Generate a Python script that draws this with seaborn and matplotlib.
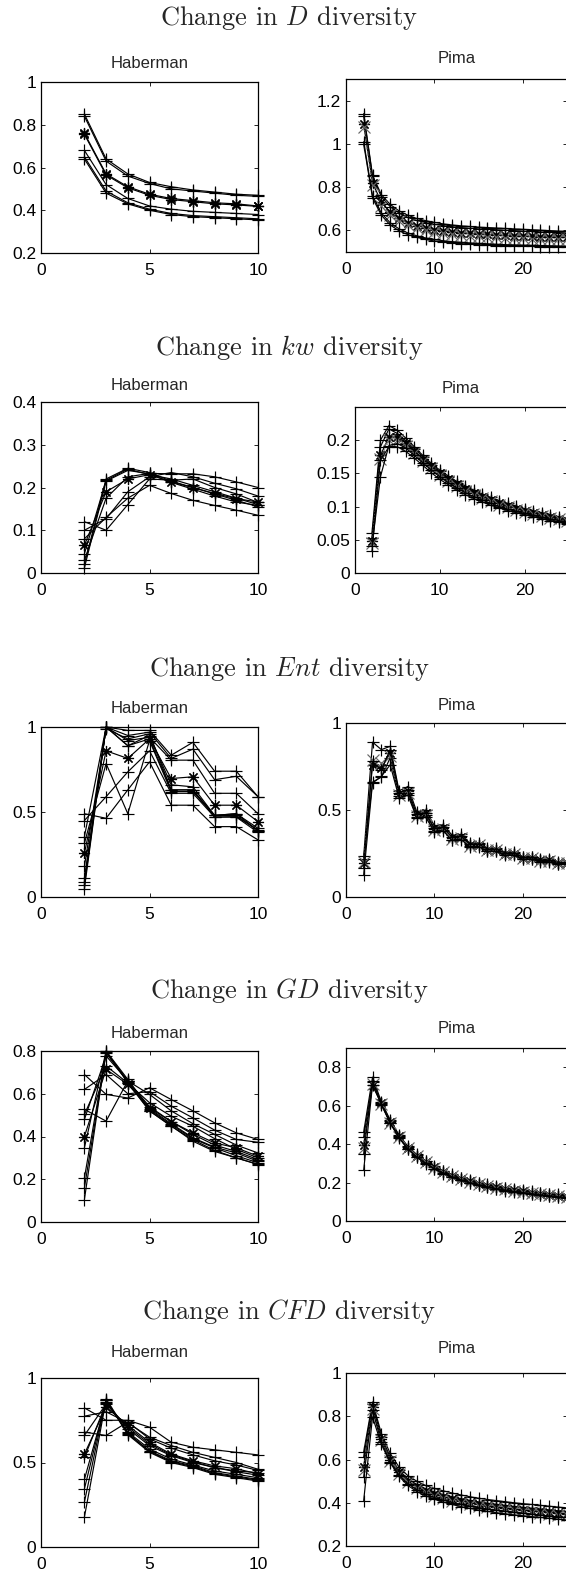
import matplotlib
matplotlib.use("Agg")
import matplotlib.pyplot as plt
import seaborn as sns
from matplotlib.ticker import FuncFormatter

# ---- data ----
hab_x = [2, 3, 4, 5, 6, 7, 8, 9, 10]
pima_x = list(range(2, 26))

# Change in D diversity
hab_D = [
    [0.85, 0.64, 0.57, 0.53, 0.51, 0.495, 0.485, 0.475, 0.47],
    [0.84, 0.63, 0.56, 0.525, 0.50, 0.49, 0.48, 0.47, 0.465],
    [0.76, 0.57, 0.51, 0.475, 0.455, 0.445, 0.435, 0.43, 0.42],
    [0.755, 0.565, 0.505, 0.47, 0.45, 0.44, 0.43, 0.425, 0.418],
    [0.68, 0.52, 0.455, 0.42, 0.405, 0.395, 0.39, 0.385, 0.38],
    [0.65, 0.49, 0.435, 0.405, 0.385, 0.375, 0.37, 0.365, 0.36],
    [0.64, 0.48, 0.43, 0.40, 0.38, 0.37, 0.365, 0.36, 0.355],
]
pima_D = [
    [1.14, 0.855, 0.765, 0.72, 0.69, 0.67, 0.655, 0.645, 0.637, 0.63, 0.625, 0.621,
     0.618, 0.615, 0.613, 0.611, 0.609, 0.607, 0.605, 0.603, 0.601, 0.599, 0.597, 0.595],
    [1.13, 0.85, 0.755, 0.71, 0.68, 0.66, 0.646, 0.636, 0.628, 0.622, 0.617, 0.613,
     0.61, 0.607, 0.605, 0.603, 0.601, 0.599, 0.597, 0.595, 0.593, 0.591, 0.59, 0.588],
    [1.09, 0.82, 0.73, 0.685, 0.655, 0.635, 0.622, 0.612, 0.604, 0.598, 0.593, 0.589,
     0.586, 0.583, 0.581, 0.579, 0.577, 0.575, 0.573, 0.572, 0.571, 0.57, 0.569, 0.568],
    [1.08, 0.81, 0.715, 0.67, 0.642, 0.623, 0.61, 0.60, 0.593, 0.587, 0.582, 0.578,
     0.575, 0.572, 0.57, 0.568, 0.566, 0.564, 0.563, 0.562, 0.561, 0.56, 0.559, 0.558],
    [1.01, 0.76, 0.68, 0.635, 0.607, 0.588, 0.575, 0.565, 0.558, 0.552, 0.548, 0.545,
     0.542, 0.54, 0.538, 0.536, 0.534, 0.533, 0.532, 0.531, 0.53, 0.529, 0.528, 0.527],
    [1.00, 0.75, 0.67, 0.625, 0.598, 0.58, 0.568, 0.558, 0.551, 0.546, 0.542, 0.539,
     0.536, 0.534, 0.532, 0.53, 0.529, 0.528, 0.527, 0.526, 0.525, 0.524, 0.523, 0.522],
]

# Change in kw diversity
hab_kw = [
    [0.02, 0.22, 0.245, 0.235, 0.215, 0.20, 0.185, 0.17, 0.155],
    [0.012, 0.215, 0.24, 0.232, 0.212, 0.196, 0.18, 0.166, 0.158],
    [0.065, 0.19, 0.22, 0.23, 0.213, 0.20, 0.186, 0.174, 0.166],
    [0.03, 0.175, 0.225, 0.233, 0.232, 0.232, 0.225, 0.213, 0.20],
    [0.10, 0.127, 0.19, 0.225, 0.235, 0.225, 0.21, 0.197, 0.18],
    [0.12, 0.10, 0.16, 0.22, 0.217, 0.22, 0.20, 0.185, 0.165],
    [0.08, 0.13, 0.175, 0.205, 0.186, 0.17, 0.158, 0.147, 0.135],
    [0.045, 0.217, 0.243, 0.23, 0.22, 0.205, 0.19, 0.175, 0.16],
]
pima_kw = [
    [0.06, 0.20, 0.222, 0.215, 0.203, 0.19, 0.177, 0.165, 0.155, 0.146, 0.138, 0.131,
     0.125, 0.119, 0.114, 0.109, 0.105, 0.101, 0.097, 0.094, 0.091, 0.088, 0.085, 0.082],
    [0.0525, 0.19, 0.217, 0.21, 0.199, 0.187, 0.175, 0.163, 0.153, 0.144, 0.136, 0.129,
     0.123, 0.117, 0.112, 0.107, 0.103, 0.099, 0.095, 0.092, 0.089, 0.086, 0.083, 0.08],
    [0.0475, 0.177, 0.205, 0.205, 0.196, 0.184, 0.172, 0.161, 0.151, 0.142, 0.134, 0.127,
     0.121, 0.115, 0.11, 0.105, 0.101, 0.097, 0.094, 0.091, 0.088, 0.085, 0.082, 0.079],
    [0.045, 0.172, 0.20, 0.20, 0.192, 0.181, 0.169, 0.158, 0.148, 0.139, 0.131, 0.124,
     0.118, 0.113, 0.108, 0.103, 0.099, 0.095, 0.092, 0.089, 0.086, 0.083, 0.081, 0.078],
    [0.04, 0.145, 0.192, 0.195, 0.188, 0.177, 0.166, 0.155, 0.145, 0.136, 0.128, 0.121,
     0.115, 0.11, 0.105, 0.10, 0.096, 0.093, 0.09, 0.087, 0.084, 0.081, 0.079, 0.076],
    [0.0325, 0.17, 0.19, 0.19, 0.183, 0.173, 0.162, 0.151, 0.141, 0.133, 0.125, 0.118,
     0.112, 0.107, 0.102, 0.098, 0.094, 0.091, 0.088, 0.085, 0.082, 0.079, 0.077, 0.074],
]

# Change in Ent diversity
hab_Ent = [
    [0.05, 1.0, 0.98, 0.98, 0.834, 0.91, 0.74, 0.74, 0.59],
    [0.07, 1.0, 0.95, 0.97, 0.815, 0.87, 0.69, 0.71, 0.59],
    [0.09, 1.0, 0.92, 0.94, 0.805, 0.805, 0.61, 0.61, 0.49],
    [0.258, 0.86, 0.815, 0.93, 0.697, 0.707, 0.54, 0.54, 0.443],
    [0.11, 1.0, 0.89, 0.95, 0.66, 0.648, 0.48, 0.49, 0.404],
    [0.18, 0.99, 0.93, 0.96, 0.63, 0.63, 0.47, 0.473, 0.395],
    [0.316, 0.785, 0.49, 0.92, 0.62, 0.62, 0.48, 0.48, 0.39],
    [0.45, 0.59, 0.736, 0.86, 0.61, 0.61, 0.47, 0.47, 0.38],
    [0.49, 0.463, 0.63, 0.795, 0.54, 0.54, 0.414, 0.414, 0.336],
    [0.355, 1.0, 0.89, 0.93, 0.63, 0.63, 0.48, 0.49, 0.39],
]
pima_Ent = [
    [0.234, 0.89, 0.847, 0.866, 0.61, 0.635, 0.49, 0.50, 0.41, 0.415, 0.355, 0.36,
     0.31, 0.31, 0.28, 0.28, 0.258, 0.258, 0.232, 0.232, 0.218, 0.218, 0.20, 0.20],
    [0.22, 0.66, 0.69, 0.80, 0.58, 0.60, 0.46, 0.47, 0.38, 0.385, 0.33, 0.335,
     0.295, 0.295, 0.265, 0.265, 0.245, 0.245, 0.22, 0.22, 0.205, 0.205, 0.19, 0.19],
    [0.195, 0.76, 0.74, 0.83, 0.59, 0.61, 0.47, 0.48, 0.39, 0.395, 0.34, 0.345,
     0.30, 0.30, 0.27, 0.27, 0.25, 0.25, 0.225, 0.225, 0.21, 0.21, 0.195, 0.195],
    [0.20, 0.79, 0.77, 0.81, 0.585, 0.60, 0.465, 0.47, 0.385, 0.39, 0.335, 0.34,
     0.295, 0.297, 0.268, 0.268, 0.247, 0.247, 0.222, 0.222, 0.208, 0.208, 0.193, 0.193],
    [0.167, 0.78, 0.73, 0.847, 0.60, 0.615, 0.475, 0.485, 0.395, 0.40, 0.345, 0.35,
     0.305, 0.305, 0.275, 0.275, 0.253, 0.253, 0.228, 0.228, 0.213, 0.213, 0.198, 0.198],
    [0.128, 0.655, 0.693, 0.76, 0.57, 0.585, 0.455, 0.46, 0.375, 0.38, 0.325, 0.33,
     0.29, 0.29, 0.262, 0.262, 0.24, 0.24, 0.218, 0.218, 0.203, 0.203, 0.188, 0.188],
]

# Change in GD diversity
hab_GD = [
    [0.69, 0.597, 0.58, 0.628, 0.573, 0.52, 0.464, 0.417, 0.386],
    [0.62, 0.69, 0.60, 0.61, 0.542, 0.487, 0.43, 0.386, 0.373],
    [0.527, 0.472, 0.66, 0.597, 0.52, 0.46, 0.41, 0.36, 0.323],
    [0.40, 0.714, 0.644, 0.534, 0.47, 0.417, 0.37, 0.347, 0.308],
    [0.503, 0.73, 0.65, 0.558, 0.495, 0.448, 0.39, 0.34, 0.30],
    [0.48, 0.777, 0.66, 0.54, 0.47, 0.41, 0.36, 0.33, 0.292],
    [0.347, 0.80, 0.667, 0.53, 0.46, 0.394, 0.35, 0.323, 0.284],
    [0.206, 0.795, 0.66, 0.525, 0.455, 0.39, 0.347, 0.31, 0.277],
    [0.16, 0.79, 0.655, 0.52, 0.448, 0.385, 0.335, 0.30, 0.269],
    [0.105, 0.80, 0.65, 0.52, 0.45, 0.378, 0.33, 0.30, 0.27],
]
pima_GD = [
    [0.463, 0.748, 0.62, 0.525, 0.448, 0.388, 0.346, 0.314, 0.285, 0.262, 0.242, 0.226,
     0.212, 0.20, 0.19, 0.181, 0.173, 0.166, 0.16, 0.154, 0.148, 0.143, 0.138, 0.133],
    [0.437, 0.722, 0.615, 0.52, 0.444, 0.385, 0.343, 0.311, 0.282, 0.259, 0.239, 0.223,
     0.209, 0.197, 0.187, 0.178, 0.17, 0.163, 0.157, 0.151, 0.145, 0.14, 0.135, 0.13],
    [0.394, 0.705, 0.612, 0.515, 0.44, 0.382, 0.34, 0.308, 0.279, 0.256, 0.236, 0.22,
     0.206, 0.194, 0.184, 0.175, 0.167, 0.16, 0.154, 0.148, 0.142, 0.137, 0.132, 0.127],
    [0.38, 0.715, 0.61, 0.512, 0.437, 0.379, 0.337, 0.305, 0.276, 0.253, 0.233, 0.217,
     0.203, 0.191, 0.181, 0.172, 0.164, 0.157, 0.151, 0.145, 0.139, 0.134, 0.129, 0.124],
    [0.35, 0.73, 0.608, 0.51, 0.435, 0.376, 0.334, 0.302, 0.273, 0.25, 0.23, 0.214,
     0.20, 0.188, 0.178, 0.169, 0.161, 0.154, 0.148, 0.142, 0.136, 0.131, 0.126, 0.121],
    [0.264, 0.71, 0.605, 0.508, 0.432, 0.373, 0.331, 0.299, 0.27, 0.247, 0.227, 0.211,
     0.197, 0.185, 0.175, 0.166, 0.158, 0.151, 0.145, 0.139, 0.133, 0.128, 0.123, 0.118],
]

# Change in CFD diversity
hab_CFD = [
    [0.823, 0.75, 0.75, 0.709, 0.62, 0.59, 0.575, 0.56, 0.545],
    [0.774, 0.80, 0.735, 0.65, 0.60, 0.56, 0.53, 0.50, 0.46],
    [0.68, 0.66, 0.74, 0.64, 0.585, 0.545, 0.51, 0.485, 0.453],
    [0.55, 0.827, 0.72, 0.62, 0.55, 0.51, 0.48, 0.463, 0.433],
    [0.66, 0.846, 0.71, 0.61, 0.545, 0.505, 0.47, 0.45, 0.44],
    [0.53, 0.85, 0.70, 0.60, 0.54, 0.50, 0.47, 0.445, 0.425],
    [0.40, 0.86, 0.68, 0.58, 0.52, 0.485, 0.45, 0.43, 0.41],
    [0.344, 0.87, 0.67, 0.57, 0.51, 0.48, 0.44, 0.42, 0.40],
    [0.266, 0.876, 0.675, 0.565, 0.505, 0.475, 0.435, 0.415, 0.395],
    [0.177, 0.87, 0.665, 0.56, 0.50, 0.47, 0.43, 0.41, 0.39],
]
pima_CFD = [
    [0.635, 0.866, 0.72, 0.628, 0.565, 0.525, 0.50, 0.48, 0.466, 0.455, 0.445, 0.436,
     0.428, 0.421, 0.415, 0.41, 0.405, 0.40, 0.396, 0.392, 0.388, 0.384, 0.38, 0.376],
    [0.612, 0.855, 0.705, 0.612, 0.55, 0.51, 0.485, 0.465, 0.45, 0.438, 0.428, 0.419,
     0.411, 0.404, 0.398, 0.393, 0.388, 0.383, 0.379, 0.375, 0.371, 0.367, 0.363, 0.36],
    [0.566, 0.843, 0.695, 0.60, 0.54, 0.50, 0.474, 0.454, 0.439, 0.427, 0.417, 0.408,
     0.40, 0.393, 0.387, 0.382, 0.377, 0.372, 0.368, 0.364, 0.36, 0.356, 0.352, 0.349],
    [0.55, 0.835, 0.69, 0.595, 0.535, 0.495, 0.468, 0.448, 0.432, 0.42, 0.41, 0.401,
     0.393, 0.386, 0.38, 0.375, 0.37, 0.365, 0.361, 0.357, 0.353, 0.349, 0.345, 0.342],
    [0.52, 0.828, 0.68, 0.59, 0.528, 0.488, 0.46, 0.44, 0.424, 0.412, 0.401, 0.392,
     0.384, 0.377, 0.371, 0.365, 0.36, 0.355, 0.351, 0.347, 0.343, 0.339, 0.335, 0.332],
    [0.41, 0.797, 0.67, 0.585, 0.522, 0.48, 0.452, 0.432, 0.416, 0.403, 0.392, 0.382,
     0.374, 0.366, 0.36, 0.354, 0.349, 0.344, 0.34, 0.336, 0.332, 0.328, 0.324, 0.32],
]

measures = ["D", "kw", "Ent", "GD", "CFD"]
hab_series = [hab_D, hab_kw, hab_Ent, hab_GD, hab_CFD]
pima_series = [pima_D, pima_kw, pima_Ent, pima_GD, pima_CFD]

hab_ylims = [(0.2, 1), (0, 0.4), (0, 1), (0, 0.8), (0, 1)]
hab_yticks = [[0.2, 0.4, 0.6, 0.8, 1], [0, 0.1, 0.2, 0.3, 0.4], [0, 0.5, 1],
              [0, 0.2, 0.4, 0.6, 0.8], [0, 0.5, 1]]
pima_ylims = [(0.5, 1.3), (0, 0.25), (0, 1), (0, 0.9), (0.2, 1)]
pima_yticks = [[0.6, 0.8, 1, 1.2], [0, 0.05, 0.1, 0.15, 0.2], [0, 0.5, 1],
               [0, 0.2, 0.4, 0.6, 0.8], [0.2, 0.4, 0.6, 0.8, 1]]
hab_xticks = [0, 5, 10]
pima_xticks = [0, 10, 20]

# marker per line ('*' = asterisk, 'x:' = dotted grey with x markers)
hab_styles = [
    ['+', '+', '*', '*', '+', '+', '+'],
    ['+', '+', '*', '+', '+', '+', '+', '+'],
    ['+', '+', '+', '*', '+', '+', '+', '+', '+', '+'],
    ['+', '+', '+', '*', '+', '+', '+', '+', '+', '+'],
    ['+', '+', '+', '*', '+', '+', '+', '+', '+', '+'],
]
pima_styles = ['+', '+', '*', 'x:', '+', '+']

# ---- layout (pixels in the 566x1571 canvas) ----
W, H = 566, 1571
LX0, LX1 = 41, 258
RX1 = 567
rows = [
    dict(sup=18, L=(82, 253), R=(79, 252), rx0=346, lt=68, rt=63),
    dict(sup=348, L=(402, 573), R=(407, 573), rx0=355, lt=390, rt=393),
    dict(sup=669, L=(727, 897), R=(723, 897), rx0=346, lt=713, rt=710),
    dict(sup=991, L=(1051, 1222), R=(1048, 1221), rx0=346, lt=1038, rt=1033),
    dict(sup=1311, L=(1378, 1547), R=(1373, 1546), rx0=346, lt=1357, rt=1353),
]

sns.set_style("white")
plt.rcParams['font.family'] = ['Liberation Sans', 'DejaVu Sans']
plt.rcParams['mathtext.fontset'] = 'cm'
plt.rcParams['axes.edgecolor'] = 'black'
plt.rcParams['axes.linewidth'] = 0.8

STAR = (8, 2, 0)
fmt = FuncFormatter(lambda v, p: f"{v:g}")

fig = plt.figure(figsize=(W / 100, H / 100), dpi=100)


def frac(x0, x1, top, bottom):
    return [x0 / W, 1 - bottom / H, (x1 - x0) / W, (bottom - top) / H]


def draw(ax, x, series, styles, xlim, ylim, xticks, yticks):
    for vals, st in zip(series, styles):
        mk = STAR if st == '*' else st[0]
        ls = ':' if st.endswith(':') else '-'
        col = '0.4' if ls == ':' else 'black'
        sns.lineplot(x=x, y=vals, ax=ax, color=col, linestyle=ls, linewidth=0.85,
                     marker=mk, markersize=8, markeredgewidth=0.85,
                     markeredgecolor=col, markerfacecolor='none', clip_on=False)
    ax.set_xlim(*xlim)
    ax.set_ylim(*ylim)
    ax.set_xticks(xticks)
    ax.set_yticks(yticks)
    ax.xaxis.set_major_formatter(fmt)
    ax.yaxis.set_major_formatter(fmt)
    ax.set_xlabel('')
    ax.set_ylabel('')
    ax.tick_params(axis='both', which='both', direction='in', length=3, width=0.6,
                   top=True, right=True, bottom=True, left=True,
                   labelsize=12.5, colors='black')
    ax.tick_params(axis='x', pad=7)
    ax.tick_params(axis='y', pad=3.5)
    for s in ax.spines.values():
        s.set_visible(True)
        s.set_color('black')
        s.set_linewidth(0.9)


for i, r in enumerate(rows):
    axl = fig.add_axes(frac(LX0, LX1, r['L'][0], r['L'][1]))
    draw(axl, hab_x, hab_series[i], hab_styles[i], (0, 10), hab_ylims[i],
         hab_xticks, hab_yticks[i])
    axr = fig.add_axes(frac(r['rx0'], RX1, r['R'][0], r['R'][1]))
    draw(axr, pima_x, pima_series[i], pima_styles, (0, 25), pima_ylims[i],
         pima_xticks, pima_yticks[i])

    fig.text((LX0 + LX1) / 2 / W, 1 - r['lt'] / H, "Haberman", ha='center',
             va='baseline', fontsize=12)
    fig.text((r['rx0'] + RX1) / 2 / W, 1 - r['rt'] / H, "Pima", ha='center',
             va='baseline', fontsize=12)
    fig.text(289 / W, 1 - r['sup'] / H, f"Change in ${measures[i]}$ diversity",
             ha='center', va='center', fontsize=19, family='cmr10')

fig.savefig("out.png", dpi=100)
